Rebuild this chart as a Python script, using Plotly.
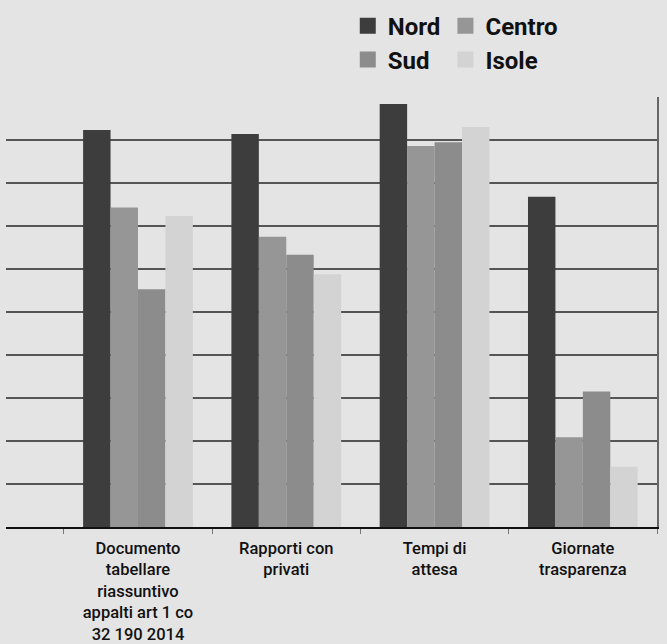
import plotly.graph_objects as go

# Categories and values per macro-area (0-100 scale)
categories = [
    "Documento<br>tabellare<br>riassuntivo<br>appalti art 1 co<br>32 190 2014",
    "Rapporti con<br>privati",
    "Tempi di<br>attesa",
    "Giornate<br>trasparenza",
]
series_names = ["Nord", "Centro", "Sud", "Isole"]
nord = [92.3, 91.4, 98.4, 76.8]
centro = [74.3, 67.5, 88.6, 20.9]
sud = [55.3, 63.3, 89.5, 31.5]
isole = [72.3, 58.8, 93.0, 14.0]
series_values = [nord, centro, sud, isole]
colors = ["#3d3d3d", "#969696", "#8c8c8c", "#d3d3d3"]

# one legend box per entry, laid out as a 2x2 grid
legend_ids = ["legend", "legend2", "legend3", "legend4"]
legend_x = [0.525, 0.675, 0.525, 0.675]
legend_y = [1.165, 1.165, 1.086, 1.086]

BG = "#e4e4e4"
FONT = "Roboto, Liberation Sans, Arial, sans-serif"

fig = go.Figure()
for name, vals, col, lg in zip(series_names, series_values, colors, legend_ids):
    fig.add_trace(go.Bar(
        name=name, x=categories, y=vals,
        marker=dict(color=col, line=dict(width=0)),
        showlegend=False,
    ))
    # square legend swatch
    fig.add_trace(go.Scatter(
        name=name, x=[None], y=[None], mode="markers",
        marker=dict(symbol="square", size=18, color=col),
        showlegend=True, legend=lg,
    ))

legend_style = dict(
    orientation="h", xanchor="left", yanchor="middle",
    font=dict(family=FONT, size=24, color="#111111", weight="bold"),
    bgcolor="rgba(0,0,0,0)", itemsizing="trace",
)
legends = {
    lg: dict(x=lx, y=ly, **legend_style)
    for lg, lx, ly in zip(legend_ids, legend_x, legend_y)
}

fig.update_layout(
    width=667, height=644,
    margin=dict(l=6, r=10, t=97, b=117, autoexpand=False),
    paper_bgcolor=BG, plot_bgcolor=BG,
    barmode="group", bargap=0.26, bargroupgap=0,
    xaxis=dict(
        type="category", range=[-0.89, 3.5],
        showgrid=False, showline=True, linecolor="#111111", linewidth=2,
        ticks="outside", tickson="boundaries", ticklen=5, tickcolor="#777777",
        tickangle=0, ticklabelstandoff=5,
        tickfont=dict(family=FONT, size=16.5, color="#111111", weight=500),
    ),
    yaxis=dict(
        range=[0, 100], dtick=10, showticklabels=False,
        showgrid=True, gridcolor="#555555", gridwidth=1.5,
        zeroline=False, side="right", showline=True,
        linecolor="#666666", linewidth=1.5, ticks="",
    ),
    **legends,
)

fig.write_html("out.html")
